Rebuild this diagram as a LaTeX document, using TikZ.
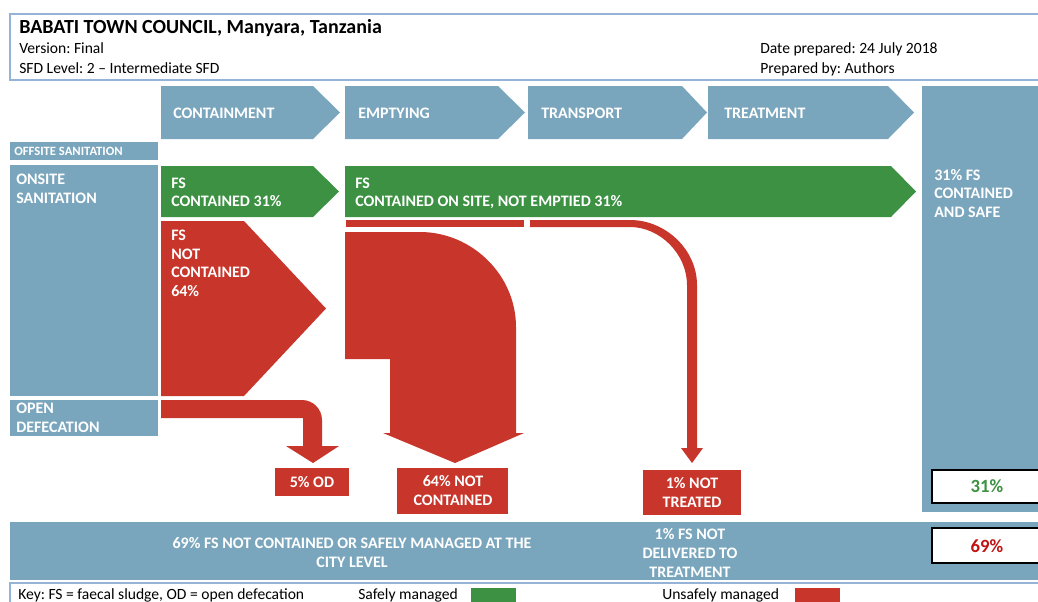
\documentclass[tikz,border=0pt]{standalone}
\usepackage{fontspec}
\setmainfont{Carlito}
\usepackage{tikz}
\frenchspacing
\pgfdeclarelayer{edgelayer}
\pgfdeclarelayer{nodelayer}
\pgfsetlayers{edgelayer,nodelayer,main}
\definecolor{sfdblue}{RGB}{122,166,189}
\definecolor{sfdgreen}{RGB}{60,145,66}
\definecolor{sfdred}{RGB}{200,53,42}
\definecolor{sfdline}{RGB}{149,179,215}
\definecolor{pctred}{RGB}{192,20,20}
\tikzstyle{none}=[inner sep=0pt]
\tikzstyle{head}=[inner sep=0pt, anchor=base west, font=\bfseries\fontsize{15}{18}\selectfont]
\tikzstyle{body}=[inner sep=0pt, anchor=base west, font=\fontsize{11.7}{14}\selectfont]
\tikzstyle{wtext}=[inner sep=0pt, anchor=base west, text=white, font=\bfseries\fontsize{12}{14}\selectfont]
\tikzstyle{ctext}=[wtext, anchor=base]
\tikzstyle{tiny}=[wtext, font=\bfseries\fontsize{9.5}{11}\selectfont]
\tikzstyle{pct}=[inner sep=0pt, anchor=base, font=\bfseries\fontsize{14}{16}\selectfont]
\tikzstyle{bluefill}=[fill=sfdblue]
\tikzstyle{greenfill}=[fill=sfdgreen]
\tikzstyle{redfill}=[fill=sfdred]

\begin{document}
\begin{tikzpicture}[x=0.75pt, y=-0.75pt]
	\useasboundingbox (0,0) rectangle (1038,601);
	\begin{pgfonlayer}{nodelayer}
		\node [style=head] (0) at (19, 33.5) {BABATI TOWN COUNCIL, Manyara, Tanzania};
		\node [style=body] (1) at (19, 53.5) {Version: Final};
		\node [style=body] (2) at (19, 73.5) {SFD Level: 2 – Intermediate SFD};
		\node [style=body] (3) at (760, 53.5) {Date prepared: 24 July 2018};
		\node [style=body] (4) at (760, 73.5) {Prepared by: Authors};
		\node [style=wtext] (5) at (173, 118.5) {CONTAINMENT};
		\node [style=wtext] (6) at (358, 118.5) {EMPTYING};
		\node [style=wtext] (7) at (541, 118.5) {TRANSPORT};
		\node [style=wtext] (8) at (724, 118.5) {TREATMENT};
		\node [style=tiny] (9) at (14, 155) {OFFSITE SANITATION};
		\node [style=wtext] (10) at (16, 184) {ONSITE};
		\node [style=wtext] (11) at (16, 203) {SANITATION};
		\node [style=wtext] (12) at (171, 188) {FS};
		\node [style=wtext] (13) at (171, 206) {CONTAINED 31\%};
		\node [style=wtext] (14) at (355, 188) {FS};
		\node [style=wtext] (15) at (355, 206) {CONTAINED ON SITE, NOT EMPTIED 31\%};
		\node [style=wtext] (16) at (934, 180) {31\% FS};
		\node [style=wtext] (17) at (934, 198.5) {CONTAINED};
		\node [style=wtext] (18) at (934, 217) {AND SAFE};
		\node [style=wtext] (19) at (171, 240.5) {FS};
		\node [style=wtext] (20) at (171, 259) {NOT};
		\node [style=wtext] (21) at (171, 277.5) {CONTAINED};
		\node [style=wtext] (22) at (171, 296) {64\%};
		\node [style=wtext] (23) at (16, 413) {OPEN};
		\node [style=wtext] (24) at (16, 432) {DEFECATION};
		\node [style=ctext] (25) at (312, 487) {5\% OD};
		\node [style=ctext] (26) at (453, 486) {64\% NOT};
		\node [style=ctext] (27) at (453, 505) {CONTAINED};
		\node [style=ctext] (28) at (692, 488) {1\% NOT};
		\node [style=ctext] (29) at (692, 507) {TREATED};
		\node [style=pct, text=sfdgreen] (30) at (987, 492) {31\%};
		\node [style=pct, text=pctred] (31) at (987, 552) {69\%};
		\node [style=ctext] (32) at (352, 548) {69\% FS NOT CONTAINED OR SAFELY MANAGED AT THE};
		\node [style=ctext] (33) at (352, 567) {CITY LEVEL};
		\node [style=ctext] (34) at (690, 539) {1\% FS NOT};
		\node [style=ctext] (35) at (690, 558) {DELIVERED TO};
		\node [style=ctext] (36) at (690, 577) {TREATMENT};
		\node [style=body] (37) at (18, 599) {Key: FS = faecal sludge, OD = open defecation};
		\node [style=body] (38) at (358, 599) {Safely managed};
		\node [style=body] (39) at (662, 599) {Unsafely managed};
	\end{pgfonlayer}
	\begin{pgfonlayer}{edgelayer}
		\draw [sfdline, line width=0.9pt] (10, 14) rectangle (1050, 80);
		\fill [style=bluefill] (161, 86) -- (313, 86) -- (340, 112.5) -- (313, 139) -- (161, 139) -- cycle;
		\fill [style=bluefill] (345, 86) -- (498, 86) -- (525, 112.5) -- (498, 139) -- (345, 139) -- cycle;
		\fill [style=bluefill] (528, 86) -- (682, 86) -- (707, 112.5) -- (682, 139) -- (528, 139) -- cycle;
		\fill [style=bluefill] (708, 86) -- (888, 86) -- (914, 112.5) -- (888, 139) -- (708, 139) -- cycle;
		\fill [style=bluefill] (922, 86) rectangle (1050, 512);
		\fill [style=bluefill] (10, 142) rectangle (158, 160);
		\fill [style=bluefill] (10, 165) rectangle (158, 396);
		\fill [style=bluefill] (10, 400) rectangle (158, 436);
		\fill [style=bluefill] (10, 522) rectangle (1050, 580);
		\fill [style=greenfill] (161, 166) -- (313, 166) -- (339, 191.5) -- (313, 217) -- (161, 217) -- cycle;
		\fill [style=greenfill] (345, 166) -- (891, 166) -- (916, 191.5) -- (891, 217) -- (345, 217) -- cycle;
		\fill [style=redfill] (161, 221) -- (244, 221) -- (326, 308.5) -- (244, 396) -- (161, 396) -- cycle;
		\fill [style=redfill] (161, 400) -- (302, 400) .. controls (313, 400) and (322, 409) .. (322, 420) -- (322, 446) -- (339, 446) -- (313, 463) -- (286, 446) -- (303, 446) -- (303, 418) -- (161, 418) -- cycle;
		\fill [style=redfill] (346, 220) rectangle (524, 227);
		\fill [style=redfill] (345, 232) -- (420, 232) .. controls (472, 232) and (516, 275) .. (516, 327) -- (516, 433) -- (524, 433) -- (455, 463) -- (383, 433) -- (390, 433) -- (390, 359) -- (345, 359) -- cycle;
		\fill [style=redfill] (530, 220) -- (630, 220) .. controls (666, 220) and (697, 250) .. (697, 285) -- (697, 448) -- (703, 448) -- (692, 463) -- (681, 448) -- (687, 448) -- (687, 285) .. controls (687, 254) and (660, 227) .. (630, 227) -- (530, 227) -- cycle;
		\fill [style=redfill] (275, 468) rectangle (349, 496);
		\fill [style=redfill] (397, 468) rectangle (508, 514);
		\fill [style=redfill] (643, 470) rectangle (741, 515);
		\draw [line width=1.5pt, fill=white] (932, 470) rectangle (1050, 503);
		\draw [line width=1.5pt, fill=white] (932, 528) rectangle (1050, 563);
		\draw [sfdline, line width=0.9pt] (1050, 583) -- (10, 583) -- (10, 610);
		\fill [style=greenfill] (471, 588) rectangle (516, 610);
		\fill [style=redfill] (795, 588) rectangle (840, 610);
	\end{pgfonlayer}
\end{tikzpicture}
\end{document}
